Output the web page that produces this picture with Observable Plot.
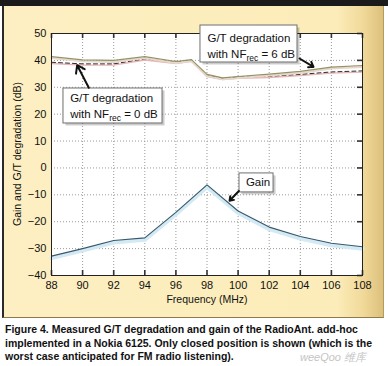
<!DOCTYPE html>
<html>
<head>
<meta charset="utf-8">
<script src="https://cdn.jsdelivr.net/npm/d3@7"></script>
<script src="https://cdn.jsdelivr.net/npm/@observablehq/plot@0.6"></script>
<style>
  body { margin:0; width:388px; height:366px; position:relative; background:#fff; overflow:hidden; }
  #bar { position:absolute; left:0; top:0; width:388px; height:6px; background:#1b1b1b; }
  #panel { position:absolute; left:2px; top:6px; width:379px; height:311px; border-left:2px solid #2a2a2a; border-right:1px solid #b59c5c; border-bottom:1px solid #8c7a4c;
    background: linear-gradient(to right, #fdefc2 0%, #fcecb9 88%, #f0d898 95%, #dcc07c 100%); }
  #chart { position:absolute; left:0; top:0; }
  #ytitle { position:absolute; left:17px; top:154px; transform: translate(-50%, -50%) rotate(-90deg); font: 10.5px "Liberation Sans", Arial, sans-serif; color:#111; white-space:nowrap; }
  #caption { position:absolute; left:5px; top:323px; font: bold 10.5px "Liberation Sans", Arial, sans-serif; line-height:13.5px; color:#111; white-space:nowrap; }
  #wm { position:absolute; left:300px; top:351px; font: italic 11px "Liberation Sans", sans-serif; line-height:12px; color:#c4c4c4; }
</style>
</head>
<body>
<div id="bar"></div>
<div id="panel"></div>
<div id="chart"></div>
<div id="ytitle">Gain and G/T degradation (dB)</div>
<div id="caption">Figure 4. Measured G/T degradation and gain of the RadioAnt. add-hoc<br>implemented in a Nokia 6125. Only closed position is shown (which is the<br>worst case anticipated for FM radio listening).</div>
<div id="wm">weeQoo 维库</div>
<script>
// ---- data ----
const freq   = [88, 90, 92, 94, 96, 97, 98, 99, 100, 102, 104, 106, 108];
const gtNF6  = [41.4, 40.2, 40.0, 41.4, 39.6, 40.3, 34.8, 33.5, 34.0, 34.9, 35.9, 37.5, 38.1];
const gtNF0  = [39.3, 38.7, 38.7, 40.6, 39.3, 40.1, 34.4, 33.3, 33.8, 34.1, 34.8, 35.7, 36.1];
const gainFreq = [88, 90, 92, 94, 96, 98, 100, 102, 104, 106, 108];
const gain     = [-32.8, -30, -27, -26, -16.5, -6.3, -16, -22, -25.5, -28, -29.3];
const xTicks = [88, 90, 92, 94, 96, 98, 100, 102, 104, 106, 108];
const yTicks = [-40, -30, -20, -10, 0, 10, 20, 30, 40, 50];

// annotations (data units)
const boxes = [
  {x1: 97.58, x2: 103.82, y1: 52.97, y2: 39.22},
  {x1: 88.77, x2: 95.14, y1: 29.55, y2: 16.54},
  {x1: 100.09, x2: 102.28, y1: -2.04, y2: -9.1}
];
const notes = [
  {x: 98.03, y: 48.1, text: "G/T degradation"},
  {x: 98.03, y: 42.3, text: "with NF_rec = 6 dB"},
  {x: 89.2, y: 25.8, text: "G/T degradation"},
  {x: 89.2, y: 20.0, text: "with NF_rec = 0 dB"},
  {x: 100.5, y: -5.5, text: "Gain"}
];
const arrows = [
  {x1: 103.95, y1: 40.7, x2: 104.85, y2: 37.6},
  {x1: 90.4, y1: 29.8, x2: 89.65, y2: 38.2},
  {x1: 100.05, y1: -8.6, x2: 99.45, y2: -12.2}
];

const upper6 = freq.map((f, i) => ({f, v: gtNF6[i]}));
const upper0 = freq.map((f, i) => ({f, v: gtNF0[i]}));
const gainData = gainFreq.map((f, i) => ({f, v: gain[i]}));

const chart = Plot.plot({
  width: 388, height: 318,
  marginLeft: 51, marginRight: 26, marginTop: 33, marginBottom: 43,
  style: {background: "transparent", fontFamily: "'Liberation Sans', Arial, sans-serif", fontSize: "11px", color: "#111"},
  x: {domain: [88, 108], label: null},
  y: {domain: [-40, 50], label: null},
  marks: [
    Plot.frame({fill: "white", stroke: null}),
    Plot.ruleX(xTicks, {x: d => d, stroke: "#9a9a9a", strokeOpacity: 1, strokeDasharray: "1,2"}),
    Plot.ruleY(yTicks, {y: d => d, stroke: "#9a9a9a", strokeOpacity: 1, strokeDasharray: "1,2"}),
    Plot.tickX(xTicks, {x: d => d, insetTop: 237, stroke: "#333", strokeWidth: 1.6}),
    Plot.tickX(xTicks, {x: d => d, insetBottom: 237, stroke: "#333", strokeWidth: 1.6}),
    Plot.tickY(yTicks, {y: d => d, insetLeft: 306, stroke: "#333", strokeWidth: 1.6}),
    // gain with glow
    Plot.line(gainData, {x: "f", y: "v", stroke: "#d3eaf4", strokeWidth: 4, dy: 2}),
    Plot.line(gainData, {x: "f", y: "v", stroke: "#3a586c", strokeWidth: 1.1}),
    // G/T NF=0 dashed
    Plot.line(upper0, {x: "f", y: "v", stroke: "#eab4b4", strokeWidth: 1.4, dy: 1.2}),
    Plot.line(upper0, {x: "f", y: "v", stroke: "#2a2a2a", strokeWidth: 1, strokeDasharray: "4,3"}),
    // G/T NF=6 solid
    Plot.line(upper6, {x: "f", y: "v", stroke: "#e6d8cc", strokeWidth: 2, dy: 1.5}),
    Plot.line(upper6, {x: "f", y: "v", stroke: "#939266", strokeWidth: 1.1}),
    Plot.frame({stroke: "#222", strokeWidth: 1}),
    Plot.axisX(xTicks, {tickSize: 0, tickPadding: 6, fontSize: 11, label: null}),
    Plot.axisY(yTicks, {tickSize: 0, tickPadding: 5, fontSize: 11, label: null}),
    Plot.text(["Frequency (MHz)"], {frameAnchor: "bottom", dy: 27, fontSize: 10.5}),
    // annotations
    Plot.rect(boxes, {x1: "x1", x2: "x2", y1: "y1", y2: "y2", fill: "#000", fillOpacity: 0.2, dx: 2.5, dy: 2.5}),
    Plot.rect(boxes, {x1: "x1", x2: "x2", y1: "y1", y2: "y2", fill: "white", stroke: "#6f6f6f", strokeWidth: 1}),
    Plot.text(notes, {x: "x", y: "y", text: "text", textAnchor: "start", fontSize: 11.5, fill: "#111"}),
    Plot.arrow(arrows, {x1: "x1", y1: "y1", x2: "x2", y2: "y2", stroke: "#111", strokeWidth: 2, headLength: 7, headAngle: 70})
  ]
});
document.getElementById("chart").appendChild(chart);

// subscript "rec" in NF_rec
chart.querySelectorAll("text").forEach(t => {
  const s = t.textContent;
  if (s.includes("NF_rec")) {
    const [a, b] = s.split("NF_rec");
    while (t.firstChild) t.removeChild(t.firstChild);
    const ns = "http://www.w3.org/2000/svg";
    const t1 = document.createElementNS(ns, "tspan"); t1.textContent = a + "NF";
    const t2 = document.createElementNS(ns, "tspan"); t2.textContent = "rec"; t2.setAttribute("dy", "3"); t2.setAttribute("font-size", "8.5");
    const t3 = document.createElementNS(ns, "tspan"); t3.textContent = b; t3.setAttribute("dy", "-3");
    t.append(t1, t2, t3);
  }
});
</script>
</body>
</html>
